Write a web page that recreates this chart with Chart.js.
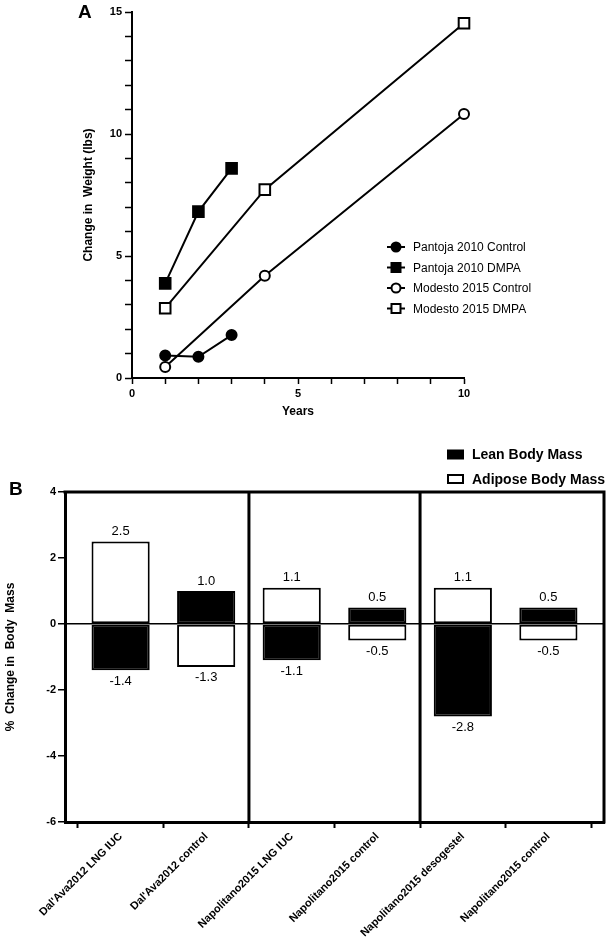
<!DOCTYPE html>
<html>
<head>
<meta charset="utf-8">
<script src="https://cdn.jsdelivr.net/npm/chart.js@4.4.1/dist/chart.umd.min.js"></script>
<style>
html, body { margin: 0; padding: 0; background: #fff; }
#wrap { position: relative; width: 615px; height: 945px; }
canvas { position: absolute; left: 0; }
#weight { top: 0; }
#mass { top: 430px; }
</style>
</head>
<body>
<div id="wrap">
  <canvas id="weight" width="615" height="430"></canvas>
  <canvas id="mass" width="615" height="515"></canvas>
</div>
<script>
// panel A - weight change vs years
const pantojaYears = [1, 2, 3];
const pantojaControl = [0.92, 0.87, 1.76];
const pantojaDmpa = [3.88, 6.82, 8.59];
const modestoYears = [1, 4, 10];
const modestoControl = [0.45, 4.19, 10.82];
const modestoDmpa = [2.86, 7.72, 14.54];
const weightLabels = ["Pantoja 2010 Control", "Pantoja 2010 DMPA", "Modesto 2015 Control", "Modesto 2015 DMPA"];

// panel B - % change in body mass
const studies = ["Dal'Ava2012 LNG IUC", "Dal'Ava2012 control", "Napolitano2015 LNG IUC",
    "Napolitano2015 control", "Napolitano2015 desogestel", "Napolitano2015 control"];
const leanMass = [-1.4, 1.0, -1.1, 0.5, -2.8, 0.5];
const adiposeMass = [2.5, -1.3, 1.1, -0.5, 1.1, -0.5];

const FONT = "'Liberation Sans', Arial, sans-serif";
Chart.defaults.font.family = FONT;
Chart.defaults.color = "#000";

const pairs = (xs, ys) => xs.map((x, i) => ({ x: x, y: ys[i] }));

const lineSet = (label, xs, ys, style, fill) => ({
    label: label,
    data: pairs(xs, ys),
    borderColor: "#000",
    borderWidth: 2,
    backgroundColor: fill,
    pointStyle: style,
    pointRadius: style === "rect" ? 7.5 : 5,
    pointHoverRadius: style === "rect" ? 7.5 : 5,
    pointBorderWidth: 2,
    pointBackgroundColor: fill,
    pointBorderColor: "#000",
    clip: false,
});

// legend + panel letter for A
const weightExtras = {
    id: "weightExtras",
    afterDraw(chart) {
        const ctx = chart.ctx;
        ctx.save();
        ctx.fillStyle = "#000";
        ctx.font = "bold 19px " + FONT;
        ctx.textBaseline = "alphabetic";
        ctx.fillText("A", 78, 18);

        const rowY = [247, 267.5, 288, 308.5];
        chart.data.datasets.forEach((ds, i) => {
            const y = rowY[i];
            ctx.strokeStyle = "#000";
            ctx.lineWidth = 2;
            ctx.beginPath();
            ctx.moveTo(387, y);
            ctx.lineTo(405, y);
            ctx.stroke();
            ctx.fillStyle = ds.pointBackgroundColor;
            ctx.beginPath();
            if (ds.pointStyle === "rect") {
                ctx.rect(391.5, y - 4.5, 9, 9);
            } else {
                ctx.arc(396, y, 4.5, 0, Math.PI * 2);
            }
            ctx.fill();
            ctx.stroke();
            ctx.fillStyle = "#000";
            ctx.font = "12px " + FONT;
            ctx.textBaseline = "middle";
            ctx.fillText(ds.label, 413, y + 1);
        });
        ctx.restore();
    },
};

new Chart(document.getElementById("weight"), {
    type: "line",
    data: {
        datasets: [
            lineSet(weightLabels[0], pantojaYears, pantojaControl, "circle", "#000"),
            lineSet(weightLabels[1], pantojaYears, pantojaDmpa, "rect", "#000"),
            lineSet(weightLabels[2], modestoYears, modestoControl, "circle", "#fff"),
            lineSet(weightLabels[3], modestoYears, modestoDmpa, "rect", "#fff"),
        ],
    },
    options: {
        responsive: false,
        animation: false,
        layout: { padding: { left: 0, top: 12, right: 151, bottom: 0 } },
        plugins: { legend: { display: false }, tooltip: { enabled: false } },
        scales: {
            x: {
                type: "linear",
                min: 0,
                max: 10,
                afterFit: (s) => { s.height = 52; },
                ticks: {
                    stepSize: 1,
                    autoSkip: false,
                    maxRotation: 0,
                    padding: 3,
                    font: { size: 11, weight: "bold" },
                    callback: (v) => (v % 5 === 0 ? v : ""),
                },
                grid: { drawOnChartArea: false, drawTicks: true, tickLength: 6, tickColor: "#000", tickWidth: 1.5 },
                border: { color: "#000", width: 2 },
                title: { display: true, text: "Years", font: { size: 12, weight: "bold" }, padding: { top: 0, bottom: 11 } },
            },
            y: {
                min: 0,
                max: 15,
                afterFit: (s) => { s.width = 132; },
                ticks: {
                    stepSize: 1,
                    autoSkip: false,
                    padding: 3,
                    font: { size: 11, weight: "bold" },
                    callback: (v) => (v % 5 === 0 ? v : ""),
                },
                grid: { drawOnChartArea: false, drawTicks: true, tickLength: 7, tickColor: "#000", tickWidth: 1.5 },
                border: { color: "#000", width: 2 },
                title: { display: true, text: "Change in  Weight (lbs)", font: { size: 12, weight: "bold" }, padding: { top: 81, bottom: 0 } },
            },
        },
    },
    plugins: [weightExtras],
});

// frame, dividers, value labels, legend for B
const massExtras = {
    id: "massExtras",
    afterDatasetsDraw(chart) {
        const ctx = chart.ctx;
        const area = chart.chartArea;
        const xs = chart.scales.x;
        ctx.save();
        ctx.strokeStyle = "#000";
        ctx.lineWidth = 3;
        ctx.beginPath();
        ctx.moveTo(area.left - 1.5, area.top);
        ctx.lineTo(area.right, area.top);
        ctx.lineTo(area.right, area.bottom + 1.5);
        [1.5, 3.5].forEach((v) => {
            const px = xs.getPixelForValue(v);
            ctx.moveTo(px, area.top);
            ctx.lineTo(px, area.bottom);
        });
        ctx.stroke();

        ctx.fillStyle = "#000";
        ctx.font = "13px " + FONT;
        ctx.textAlign = "center";
        ctx.textBaseline = "middle";
        chart.data.datasets.forEach((ds, di) => {
            const meta = chart.getDatasetMeta(di);
            meta.data.forEach((el, i) => {
                const v = ds.data[i].y;
                const y = v >= 0 ? el.y - 10 : el.y + 11;
                ctx.fillText(v.toFixed(1), el.x, y);
            });
        });

        // legend
        ctx.textAlign = "left";
        ctx.font = "bold 14px " + FONT;
        ctx.lineWidth = 2;
        const rows = [24.5, 49];
        chart.data.datasets.forEach((ds, i) => {
            const y = rows[i];
            ctx.fillStyle = ds.backgroundColor;
            ctx.fillRect(448, y - 4, 15, 8);
            ctx.strokeRect(448, y - 4, 15, 8);
            ctx.fillStyle = "#000";
            ctx.fillText(ds.label, 472, y + 1);
        });

        ctx.font = "bold 19px " + FONT;
        ctx.textBaseline = "alphabetic";
        ctx.fillText("B", 9, 65);
        ctx.restore();
    },
};

const barSet = (label, values, fill) => ({
    label: label,
    data: values.map((v, i) => ({ x: i, y: v })),
    backgroundColor: fill,
    borderColor: "#000",
    borderWidth: 2,
    borderSkipped: false,
    barPercentage: 0.68,
    categoryPercentage: 1,
    stack: "mass",
});

new Chart(document.getElementById("mass"), {
    type: "bar",
    data: {
        datasets: [
            barSet("Lean Body Mass", leanMass, "#000"),
            barSet("Adipose Body Mass", adiposeMass, "#fff"),
        ],
    },
    options: {
        responsive: false,
        animation: false,
        layout: { padding: { left: 0, top: 62, right: 11, bottom: 0 } },
        plugins: { legend: { display: false }, tooltip: { enabled: false } },
        scales: {
            x: {
                type: "linear",
                min: -0.65,
                max: 5.65,
                stacked: true,
                offset: false,
                afterFit: (s) => { s.height = 123; },
                afterBuildTicks: (s) => { s.ticks = studies.map((_, i) => ({ value: i })); },
                ticks: {
                    autoSkip: false,
                    minRotation: 45,
                    maxRotation: 45,
                    padding: 2,
                    font: { size: 11, weight: "bold" },
                    callback: (v) => studies[Math.round(v)],
                },
                grid: { drawOnChartArea: false, drawTicks: true, tickLength: 6, tickColor: "#000", tickWidth: 2 },
                border: { color: "#000", width: 3 },
            },
            y: {
                min: -6,
                max: 4,
                stacked: true,
                afterFit: (s) => { s.width = 65; },
                ticks: { stepSize: 2, padding: 2, font: { size: 11, weight: "bold" } },
                grid: {
                    drawOnChartArea: true,
                    color: (c) => (c.tick && c.tick.value === 0 ? "#000" : "rgba(0,0,0,0)"),
                    lineWidth: 1.5,
                    drawTicks: true,
                    tickLength: 7,
                    tickColor: "#000",
                    tickWidth: 1.5,
                },
                border: { color: "#000", width: 3 },
                title: { display: true, text: "%  Change in  Body  Mass", font: { size: 12, weight: "bold" }, padding: { top: 3, bottom: 0 } },
            },
        },
    },
    plugins: [massExtras],
});
</script>
</body>
</html>
